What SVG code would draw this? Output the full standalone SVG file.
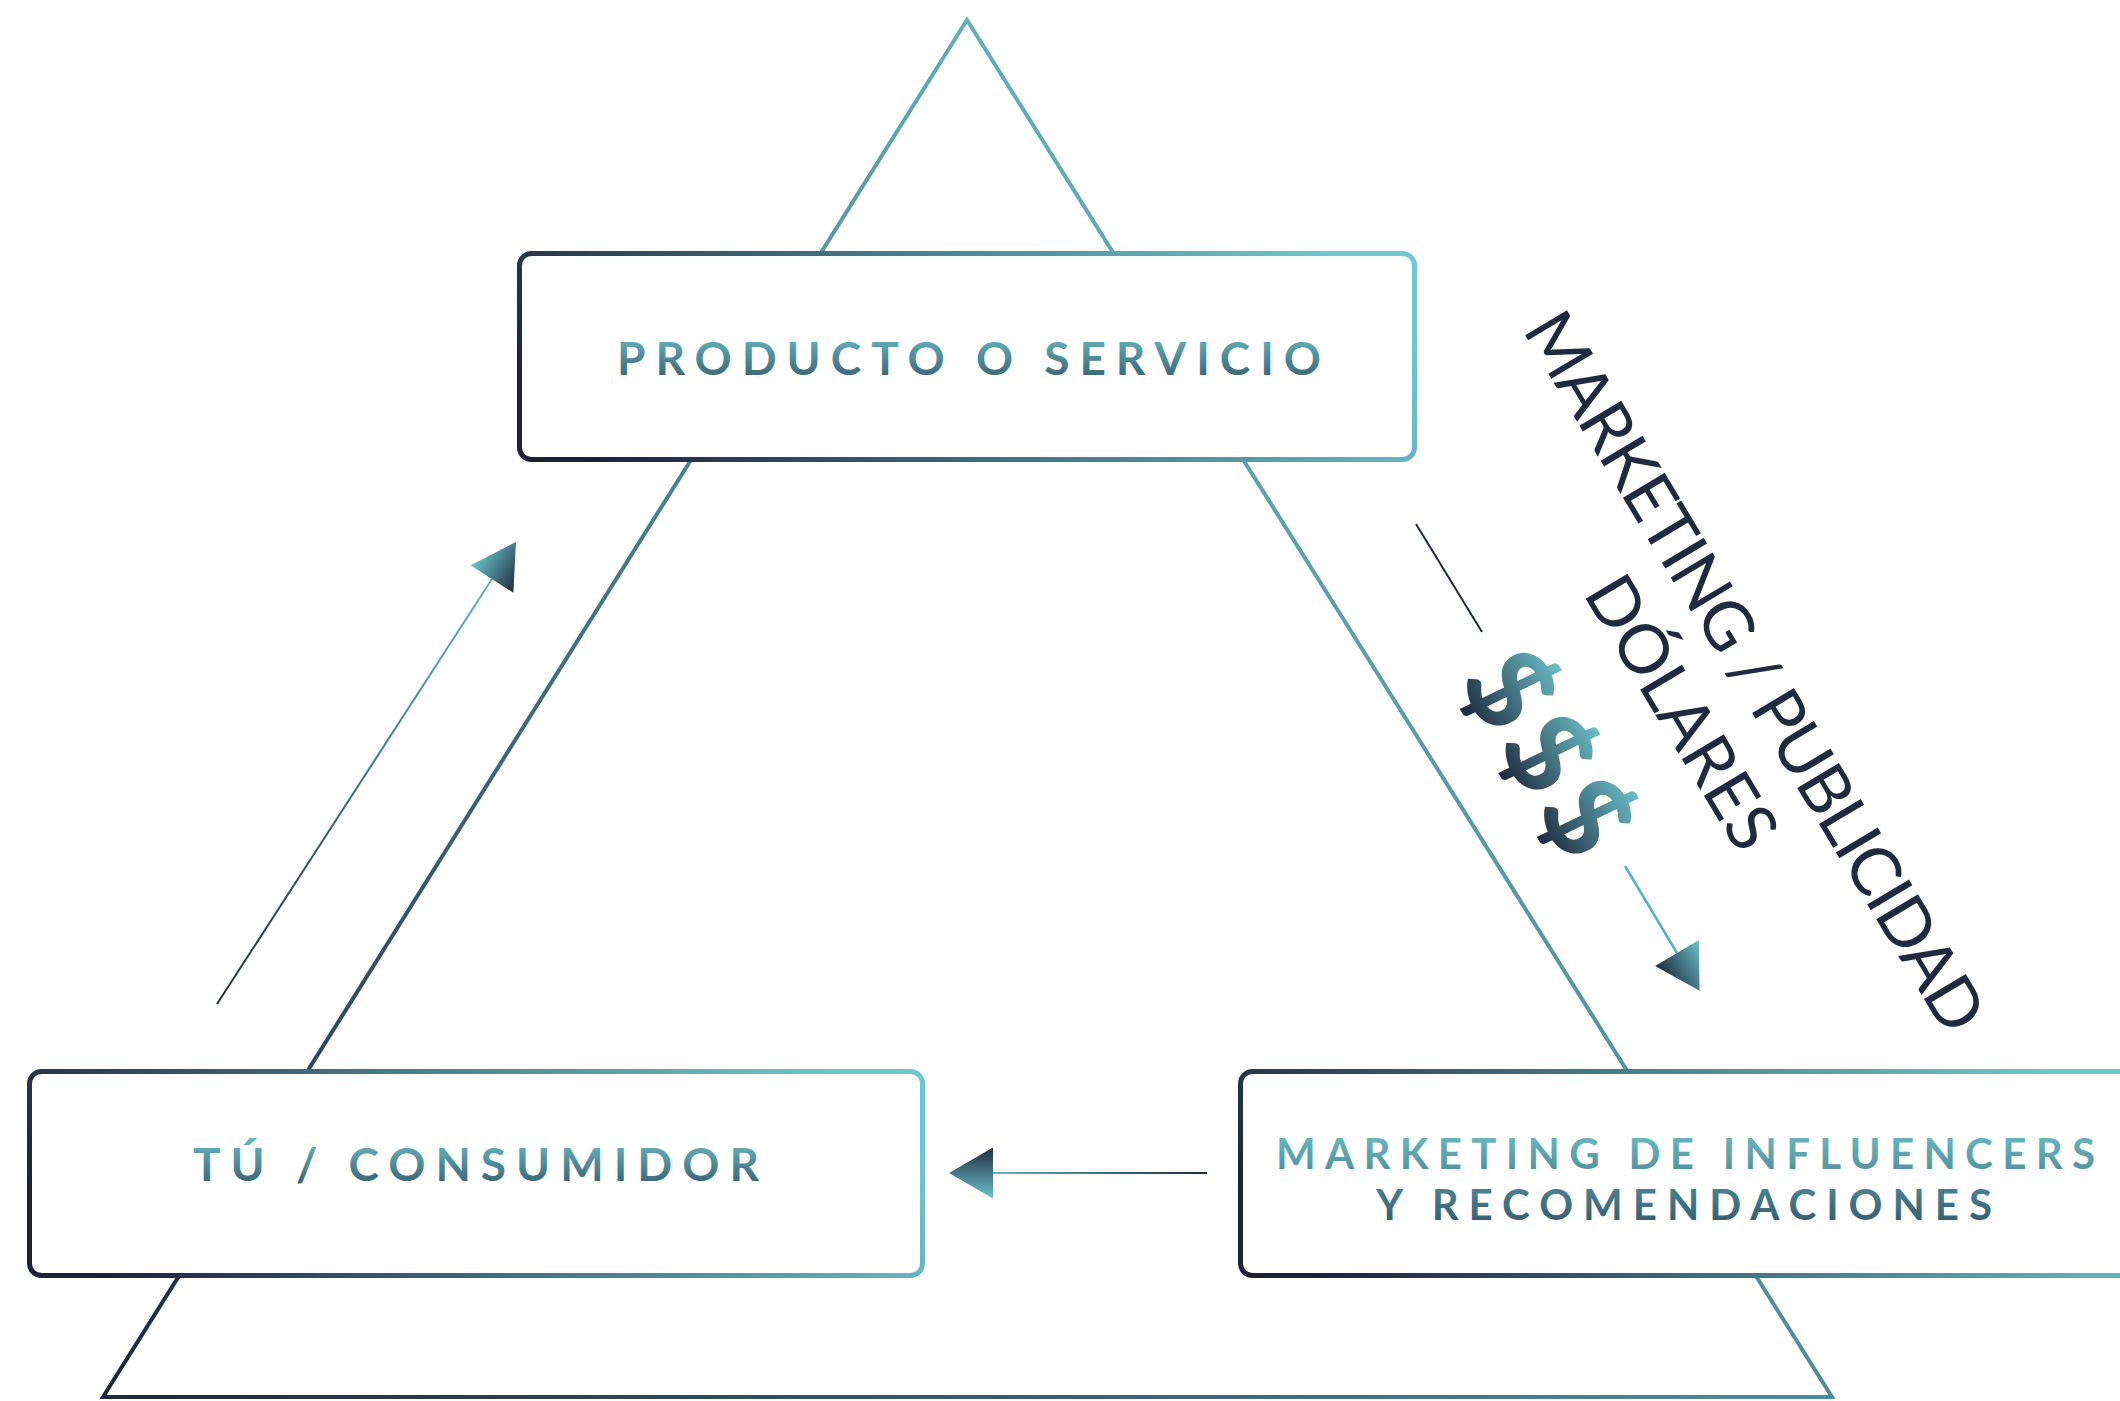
<svg xmlns="http://www.w3.org/2000/svg" width="2120" height="1401" viewBox="0 0 2120 1401">
<style>
.box{fill:#ffffff;stroke:url(#gBox);stroke-width:5}
.lbl{font-family:Lato,"Open Sans","Liberation Sans",sans-serif;font-weight:700;fill:url(#gText)}
.rot{font-family:Lato,"Open Sans","Liberation Sans",sans-serif;font-weight:400;font-size:68px;fill:#1f2a3f}
.usd{font-family:Lato,"Open Sans","Liberation Sans",sans-serif;font-weight:900;font-size:115px;fill:url(#gDollar)}
</style>
<defs>
<linearGradient id="gTri" gradientUnits="userSpaceOnUse" x1="103" y1="1397" x2="1400" y2="20">
<stop offset="0" stop-color="#1e273a"/><stop offset="1" stop-color="#6fc8d1"/>
</linearGradient>
<linearGradient id="gBox" x1="0" y1="0.6" x2="1" y2="0.4">
<stop offset="0" stop-color="#1d2236"/><stop offset="0.5" stop-color="#467a88"/><stop offset="1" stop-color="#6fc8d1"/>
</linearGradient>
<linearGradient id="gText" x1="0" y1="0" x2="0" y2="1">
<stop offset="0" stop-color="#6dbec6"/><stop offset="1" stop-color="#33586a"/>
</linearGradient>
<linearGradient id="gHead" x1="0" y1="0" x2="0" y2="1">
<stop offset="0" stop-color="#6cc2cb"/><stop offset="1" stop-color="#1f2b3f"/>
</linearGradient>
<linearGradient id="gDollar" x1="0" y1="1" x2="0" y2="0">
<stop offset="0.1" stop-color="#1f2b3e"/><stop offset="0.9" stop-color="#6fc5ce"/>
</linearGradient>
<linearGradient id="gLineL" gradientUnits="userSpaceOnUse" x1="217" y1="1004" x2="492" y2="579">
<stop offset="0" stop-color="#1f2a3e"/><stop offset="1" stop-color="#5fb5bd"/>
</linearGradient>
<linearGradient id="gLineB" gradientUnits="userSpaceOnUse" x1="1207" y1="0" x2="993" y2="0">
<stop offset="0" stop-color="#1f2a3e"/><stop offset="1" stop-color="#5fb5bd"/>
</linearGradient>
<marker id="ah" viewBox="-44 -26 44 52" refX="-44" refY="0" markerWidth="44" markerHeight="52" markerUnits="userSpaceOnUse" orient="auto" overflow="visible">
<path d="M-44,-25.5 L0,0 L-44,25.5 Z" fill="url(#gHead)"/>
</marker>
</defs>
<rect width="2120" height="1401" fill="#ffffff"/>
<g id="triangle">
<polygon points="967,20 1832,1397 103,1397" fill="none" stroke="url(#gTri)" stroke-width="4"/>
</g>
<g id="node-producto">
<rect class="box" x="519.5" y="253.5" width="895" height="206" rx="12"/>
<text class="lbl" x="617" y="375" font-size="46" textLength="704" lengthAdjust="spacing">PRODUCTO O SERVICIO</text>
</g>
<g id="node-consumidor">
<rect class="box" x="29.5" y="1071.5" width="893" height="204" rx="12"/>
<text class="lbl" x="193" y="1181" font-size="46" textLength="566" lengthAdjust="spacing">TÚ / CONSUMIDOR</text>
</g>
<g id="node-influencers">
<rect class="box" x="1240.5" y="1071.5" width="895" height="204" rx="12"/>
<text class="lbl" font-size="42"><tspan x="1276" y="1169" textLength="819" lengthAdjust="spacing">MARKETING DE INFLUENCERS</tspan><tspan x="1376" y="1220" textLength="616" lengthAdjust="spacing">Y RECOMENDACIONES</tspan></text>
</g>
<g id="connectors">
<line x1="217" y1="1004" x2="492" y2="579" stroke="url(#gLineL)" stroke-width="2" marker-end="url(#ah)"/>
<line x1="1207" y1="1173" x2="993" y2="1173" stroke="url(#gLineB)" stroke-width="2" marker-end="url(#ah)"/>
<line x1="1416" y1="524" x2="1482" y2="632" stroke="#1f2a3e" stroke-width="2"/>
<line x1="1625" y1="866" x2="1677" y2="953" stroke="#5cb2ba" stroke-width="2.6" marker-end="url(#ah)"/>
</g>
<g id="label-marketing" transform="translate(1522,330) rotate(59)">
<text class="rot" x="0" y="0" textLength="826" lengthAdjust="spacing">MARKETING / PUBLICIDAD</text>
<text class="rot" x="410" y="84" text-anchor="middle">DÓLARES</text>
<text class="usd" x="380" y="236" text-anchor="middle" letter-spacing="8">$$$</text>
</g>
</svg>
